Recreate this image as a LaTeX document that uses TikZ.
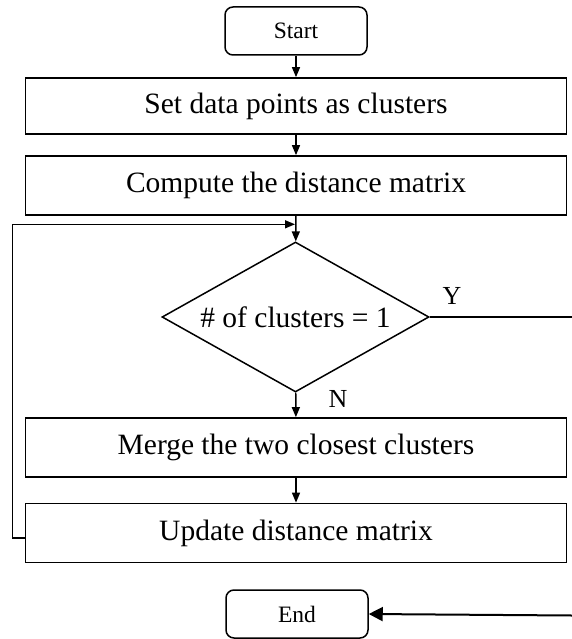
\documentclass[tikz,border=0pt]{standalone}
\usepackage{fontspec}
\setmainfont{Liberation Serif}
\usetikzlibrary{shapes.geometric,arrows.meta}
\begin{document}
\begin{tikzpicture}[x=1pt,y=-1pt,
  box/.style={draw,line width=1.7pt,minimum width=541pt,inner sep=0pt,
    font=\fontsize{29.5}{32}\selectfont},
  term/.style={draw,line width=1.5pt,rounded corners=8pt,minimum width=142pt,
    minimum height=48pt,inner sep=0pt,font=\fontsize{23.5}{26}\selectfont},
  decision/.style={draw,diamond,line width=1.5pt,aspect=1.78,minimum width=267pt,
    minimum height=150pt,inner sep=0pt,font=\fontsize{29.5}{32}\selectfont},
  conn/.style={line width=1.4pt},
  arr/.style={conn,-{Triangle[length=10pt,width=8pt]}},
  bigarr/.style={line width=2pt,-{Triangle[length=14pt,width=14pt]}},
  lbl/.style={inner sep=0pt,font=\fontsize{26}{28}\selectfont}]
  % page frame
  \useasboundingbox (0,0) rectangle (572,639);

  % flowchart steps
  \node[term] (start) at (296,31) {Start};
  \node[box,minimum height=56pt] (init) at (296,106) {Set data points as clusters};
  \node[box,minimum height=59pt] (dist) at (296,185.5) {Compute the distance matrix};
  \node[decision] (test) at (295.5,317) {\# of clusters = 1};
  \node[box,minimum height=59pt] (merge) at (296,447.5) {Merge the two closest clusters};
  \node[box,minimum height=59pt] (upd) at (296,533) {Update distance matrix};
  \node[term] (end) at (297,614) {End};

  % branch labels
  \node[lbl] (yes) at (452,296) {Y};
  \node[lbl] (no) at (338,399) {N};

  % main flow
  \draw[arr] (start) -- (init);
  \draw[arr] (init) -- (dist);
  \draw[arr] (dist) -- (test);
  \draw[arr] (test) -- (merge);
  \draw[arr] (merge) -- (upd);

  % loop back to the test
  \coordinate (loopbot) at (12.7,538);
  \coordinate (join) at (295,224.3);
  \draw[arr] (loopbot -| upd.west) -- (loopbot) |- (join);

  % exit branch
  \coordinate (yend) at (572,317);
  \draw[conn] (test.east) -- (yend);
  \coordinate (endin) at (572,615.5);
  \draw[bigarr] (endin) -- (end.east);
\end{tikzpicture}
\end{document}
